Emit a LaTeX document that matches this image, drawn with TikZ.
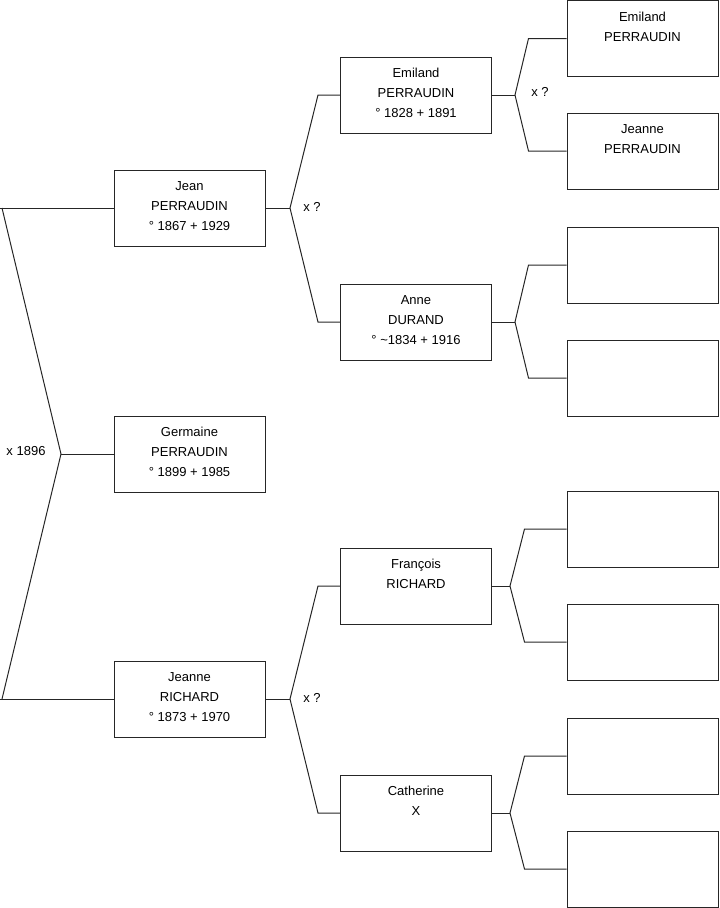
\documentclass[tikz,border=0pt]{standalone}
\usepackage{fontspec}
\setmainfont{Liberation Sans}
\usetikzlibrary{positioning,calc}

\begin{document}
\begin{tikzpicture}[x=0.75pt, y=-0.75pt,
    pers/.style={draw=black!85, line width=0.75pt, minimum width=113.25pt,
                 minimum height=57pt, inner sep=0pt},
    txt/.style={font=\fontsize{9.75}{15}\selectfont, align=center,
                inner sep=0pt, anchor=north, yshift=-8.5pt},
    link/.style={draw=black!85, line width=0.75pt},
    note/.style={font=\fontsize{9.75}{15}\selectfont, inner sep=0pt},
  ]
  \useasboundingbox (0,0) rectangle (719,908);

  % generation 1
  \node[pers, label={[txt]north:{Jean\\PERRAUDIN\\° 1867 + 1929}}]      (jean)  at (189.5,208) {};
  \node[pers, label={[txt]north:{Germaine\\PERRAUDIN\\° 1899 + 1985}}]  (germ)  at (189.5,454) {};
  \node[pers, label={[txt]north:{Jeanne\\RICHARD\\° 1873 + 1970}}]      (jeanr) at (189.5,699) {};

  % generation 2
  \node[pers, label={[txt]north:{Emiland\\PERRAUDIN\\° 1828 + 1891}}]   (emi)  at (416,95) {};
  \node[pers, label={[txt]north:{Anne\\DURAND\\° \textasciitilde1834 + 1916}}] (anne) at (416,322) {};
  \node[pers, label={[txt]north:{François\\RICHARD}}]                   (fran) at (416,586) {};
  \node[pers, label={[txt]north:{Catherine\\X}}]                        (cath) at (416,813) {};

  % generation 3
  \node[pers, label={[txt]north:{Emiland\\PERRAUDIN}}] (g1) at (642.5,38.5) {};
  \node[pers, label={[txt]north:{Jeanne\\PERRAUDIN}}]  (g2) at (642.5,151) {};
  \node[pers] (g3) at (642.5,265) {};
  \node[pers] (g4) at (642.5,378) {};
  \node[pers] (g5) at (642.5,529) {};
  \node[pers] (g6) at (642.5,642) {};
  \node[pers] (g7) at (642.5,756) {};
  \node[pers] (g8) at (642.5,869) {};

  % forks
  \coordinate (v0) at (61,454);
  \coordinate (l1) at (0,208);
  \coordinate (l2) at (0,699);
  \coordinate (v1) at (290,208);
  \coordinate (v2) at (290,699);
  \coordinate (v3) at (515,95);
  \coordinate (v4) at (515,322);
  \coordinate (v5) at (510,586);
  \coordinate (v6) at (510,813);

  \draw[link] (jean.west) -- (l1);
  \draw[link] (jeanr.west) -- (l2);
  \draw[link] ($(l1)+(2,0)$) -- (v0) -- ($(l2)+(2,0)$);
  \draw[link] (v0) -- (germ.west);

  \draw[link] (jean.east) -- (v1);
  \draw[link] (emi.west) -- ++(-22,0) -- (v1) -- ($(anne.west)+(-22,0)$) -- (anne.west);
  \draw[link] (jeanr.east) -- (v2);
  \draw[link] (fran.west) -- ++(-22,0) -- (v2) -- ($(cath.west)+(-22,0)$) -- (cath.west);

  \draw[link] (emi.east) -- (v3);
  \draw[link] (g1.west) -- ++(-38,0) -- (v3) -- ($(g2.west)+(-38,0)$) -- (g2.west);
  \draw[link] (anne.east) -- (v4);
  \draw[link] (g3.west) -- ++(-38,0) -- (v4) -- ($(g4.west)+(-38,0)$) -- (g4.west);
  \draw[link] (fran.east) -- (v5);
  \draw[link] (g5.west) -- ++(-42,0) -- (v5) -- ($(g6.west)+(-42,0)$) -- (g6.west);
  \draw[link] (cath.east) -- (v6);
  \draw[link] (g7.west) -- ++(-42,0) -- (v6) -- ($(g8.west)+(-42,0)$) -- (g8.west);

  % marriages
  \node[note] (m0) at (26,451) {x 1896};
  \node[note] (m1) at (312,207) {x ?};
  \node[note] (m2) at (312,698) {x ?};
  \node[note] (m3) at (540,92)  {x ?};
\end{tikzpicture}
\end{document}
